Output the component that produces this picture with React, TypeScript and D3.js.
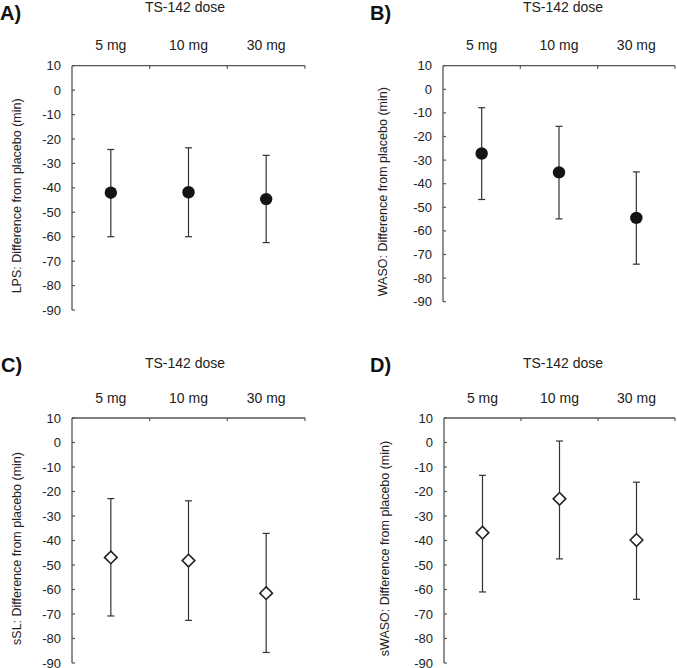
import React from 'react';
import * as d3 from 'd3';

const doses = ['5 mg', '10 mg', '30 mg'];
const yTickValues = [10, 0, -10, -20, -30, -40, -50, -60, -70, -80, -90];

const lpsMean = [-42, -41.8, -44.6];
const lpsUpper = [-24.3, -23.6, -26.7];
const lpsLower = [-60, -60, -62.4];

const wasoMean = [-27.2, -35.2, -54.5];
const wasoUpper = [-7.8, -15.7, -35];
const wasoLower = [-46.7, -54.9, -74.1];

const sslMean = [-46.9, -48.2, -61.5];
const sslUpper = [-22.9, -23.8, -37.1];
const sslLower = [-70.8, -72.6, -85.7];

const swasoMean = [-36.8, -23, -39.8];
const swasoUpper = [-13.4, 0.6, -16.2];
const swasoLower = [-61, -47.5, -64];

type Panel = {
    letter: string;
    yTitle: string;
    mean: number[];
    upper: number[];
    lower: number[];
    marker: 'circle' | 'diamond';
    // layout
    left: number;
    right: number;
    top: number;
    bottom: number;
    letterX: number;
    letterY: number;
    titleY: number;
    titleX: number;
    yTitleX: number;
};

const panels: Panel[] = [
    {
        letter: 'A)', yTitle: 'LPS: Difference from placebo (min)',
        mean: lpsMean, upper: lpsUpper, lower: lpsLower, marker: 'circle',
        left: 72, right: 305, top: 65.7, bottom: 310,
        letterX: 0, letterY: 20, titleX: 185, titleY: 12, yTitleX: 21,
    },
    {
        letter: 'B)', yTitle: 'WASO: Difference from placebo (min)',
        mean: wasoMean, upper: wasoUpper, lower: wasoLower, marker: 'circle',
        left: 443, right: 675, top: 65.7, bottom: 301.7,
        letterX: 370, letterY: 20, titleX: 563, titleY: 12, yTitleX: 387,
    },
    {
        letter: 'C)', yTitle: 'sSL: Difference from placebo (min)',
        mean: sslMean, upper: sslUpper, lower: sslLower, marker: 'diamond',
        left: 72, right: 305, top: 418, bottom: 663,
        letterX: 1, letterY: 372, titleX: 185, titleY: 368, yTitleX: 21,
    },
    {
        letter: 'D)', yTitle: 'sWASO: Difference from placebo (min)',
        mean: swasoMean, upper: swasoUpper, lower: swasoLower, marker: 'diamond',
        left: 444, right: 675, top: 418, bottom: 663,
        letterX: 370, letterY: 372, titleX: 563, titleY: 368, yTitleX: 389,
    },
];

const font = '"Liberation Sans", Arial, sans-serif';
const axisColor = '#555';
const textColor = '#222';

const PanelChart: React.FC<{ p: Panel }> = ({ p }) => {
    const x = d3.scaleBand<string>().domain(doses).range([p.left, p.right]).padding(0);
    const y = d3.scaleLinear().domain([-90, 10]).range([p.bottom, p.top]);
    const cx = (d: string) => (x(d) ?? 0) + x.bandwidth() / 2;
    const boundaries = d3.range(doses.length + 1).map(i => p.left + i * x.step());
    const yMid = (p.top + p.bottom) / 2 + 8;

    return (
        <g>
            <text x={p.letterX} y={p.letterY} fontSize={20} fontWeight="bold" fill="#111" fontFamily={font}>
                {p.letter}
            </text>
            <text x={p.titleX} y={p.titleY} fontSize={14} textAnchor="middle" fill={textColor} fontFamily={font}>
                TS-142 dose
            </text>
            {doses.map(d => (
                <text key={d} x={cx(d)} y={p.top - 15.5} fontSize={14} textAnchor="middle" fill={textColor} fontFamily={font}>
                    {d}
                </text>
            ))}
            {/* top x axis */}
            <line x1={p.left} x2={p.right} y1={y(10)} y2={y(10)} stroke={axisColor} strokeWidth={1.3} />
            {boundaries.slice(1).map((bx, i) => (
                <line key={i} x1={bx} x2={bx} y1={y(10)} y2={y(10) + 3} stroke={axisColor} strokeWidth={1.2} />
            ))}
            {/* left y axis */}
            <line x1={p.left} x2={p.left} y1={y(10)} y2={y(-90)} stroke={axisColor} strokeWidth={1.3} />
            {yTickValues.map(v => (
                <g key={v}>
                    <line x1={p.left} x2={p.left + 3} y1={y(v)} y2={y(v)} stroke={axisColor} strokeWidth={1.2} />
                    <text x={p.left - 11} y={y(v)} dy="0.35em" fontSize={13} textAnchor="end" fill={textColor} fontFamily={font}>
                        {v}
                    </text>
                </g>
            ))}
            <text
                transform={`translate(${p.yTitleX},${yMid}) rotate(-90)`}
                fontSize={12.5}
                textAnchor="middle"
                fill={textColor}
                fontFamily={font}
            >
                {p.yTitle}
            </text>
            {/* error bars and markers */}
            {doses.map((d, i) => {
                const px = cx(d);
                const py = y(p.mean[i]);
                return (
                    <g key={d}>
                        <line x1={px} x2={px} y1={y(p.upper[i])} y2={y(p.lower[i])} stroke="#333" strokeWidth={1.2} />
                        <line x1={px - 3.5} x2={px + 3.5} y1={y(p.upper[i])} y2={y(p.upper[i])} stroke="#333" strokeWidth={1.2} />
                        <line x1={px - 3.5} x2={px + 3.5} y1={y(p.lower[i])} y2={y(p.lower[i])} stroke="#333" strokeWidth={1.2} />
                        {p.marker === 'circle' ? (
                            <circle cx={px} cy={py} r={6.2} fill="#141414" />
                        ) : (
                            <path
                                d={`M${px},${py - 6.3}L${px + 6.3},${py}L${px},${py + 6.3}L${px - 6.3},${py}Z`}
                                fill="#fff"
                                stroke="#222"
                                strokeWidth={1.6}
                            />
                        )}
                    </g>
                );
            })}
        </g>
    );
};

const App: React.FC = () => {
    const width = 677;
    const height = 668;
    return (
        <svg
            width={width}
            height={height}
            style={{ position: 'absolute', left: 0, top: 0, background: '#fff' }}
        >
            <rect width={width} height={height} fill="#fff" />
            {panels.map(p => (
                <PanelChart key={p.letter} p={p} />
            ))}
        </svg>
    );
};

export default App;
